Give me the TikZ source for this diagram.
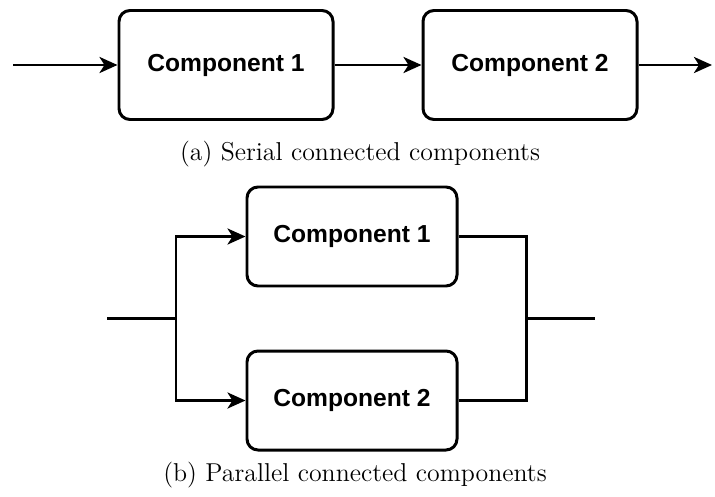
\documentclass[tikz,border=0pt]{standalone}
\usepackage{fontspec}
\newfontfamily\boxfont{Liberation Sans}
\usetikzlibrary{arrows.meta}

\begin{document}
\begin{tikzpicture}[line width=1.7pt, >={Stealth[length=0.36cm,width=0.32cm,inset=0.1cm]},
  comp/.style={draw, rounded corners=0.22cm, minimum width=4.28cm,
    minimum height=2.18cm, font=\boxfont\bfseries\fontsize{14}{16}\selectfont},
  pcomp/.style={comp, minimum width=4.2cm, minimum height=1.98cm},
  captext/.style={font=\fontsize{14.7}{17}\selectfont}]
\useasboundingbox (0,0) rectangle (14.3,9.92);

% serial
\coordinate (A0) at (0.26,8.62);
\node[comp] (C1) at (4.52,8.62) {Component 1};
\node[comp] (C2) at (10.6,8.62) {Component 2};
\coordinate (A3) at (14.24,8.62);
\node[captext] (capA) at (7.2,6.84) {(a) Serial connected components};

\draw[->] (A0) -- (C1);
\draw[->] (C1) -- (C2);
\draw[->] (C2) -- (A3);

% parallel
\coordinate (B0) at (2.14,3.56);
\coordinate (S)  at (3.52,3.56);
\node[pcomp] (P1) at (7.04,5.19) {Component 1};
\node[pcomp] (P2) at (7.04,1.91) {Component 2};
\coordinate (J)  at (10.52,3.56);
\coordinate (B3) at (11.9,3.56);
\node[captext] (capB) at (7.1,0.42) {(b) Parallel connected components};

\draw (B0) -- (S);
\draw[->] (S) |- (P1.west);
\draw[->] (S) |- (P2.west);
\draw (P1.east) -| (J);
\draw (P2.east) -| (J);
\draw (J) -- (B3);
\end{tikzpicture}
\end{document}
